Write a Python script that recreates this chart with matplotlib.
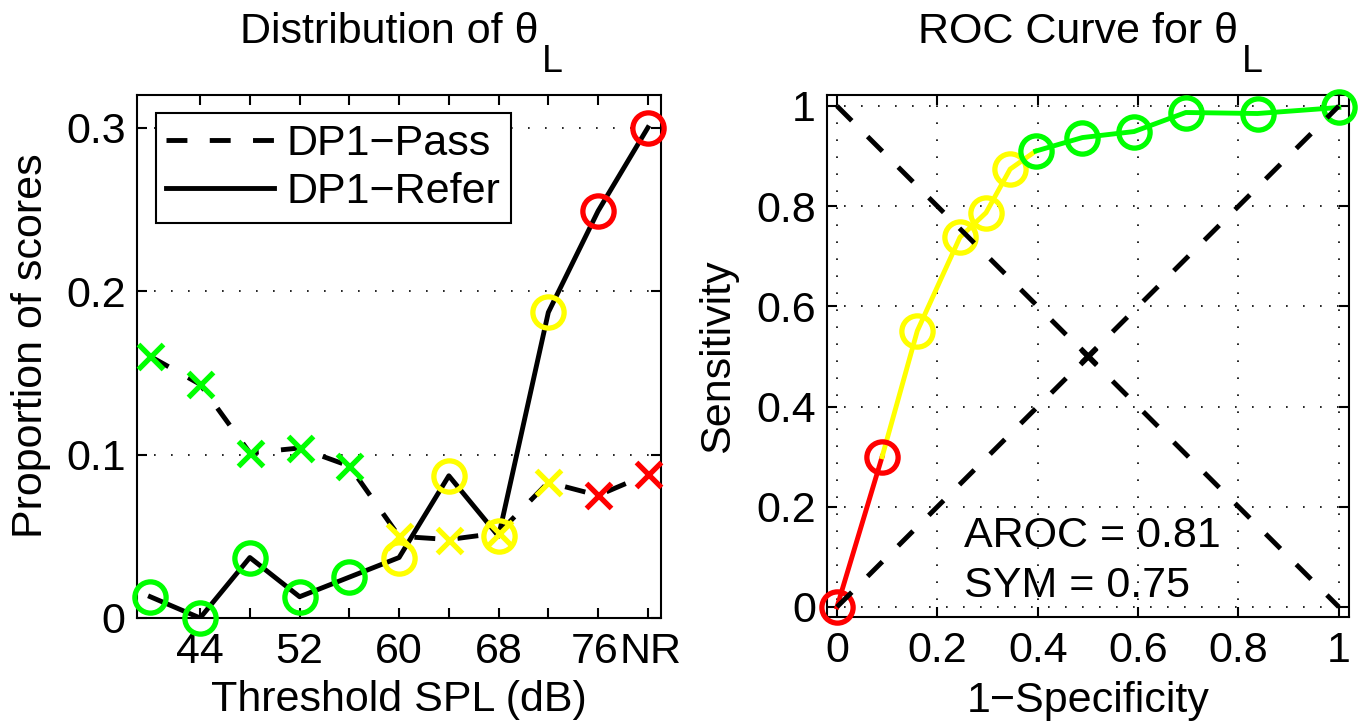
import matplotlib
matplotlib.use("Agg")
import matplotlib.pyplot as plt
from matplotlib.lines import Line2D
import matplotlib.transforms as mtransforms

plt.rcParams['font.family'] = ['Liberation Sans', 'DejaVu Sans']
plt.rcParams['axes.unicode_minus'] = True

# ---------------- data ----------------
thresholds = [40, 44, 48, 52, 56, 60, 64, 68, 72, 76, 80]
pass_vals = [0.160, 0.143, 0.101, 0.104, 0.093, 0.050, 0.048, 0.052, 0.083, 0.075, 0.088]
refer_vals = [0.013, 0.000, 0.037, 0.013, 0.025, 0.037, 0.087, 0.050, 0.187, 0.249, 0.300]
point_colors = ['g', 'g', 'g', 'g', 'g', 'y', 'y', 'y', 'y', 'r', 'r']
xtick_pos = [44, 48, 52, 56, 60, 64, 68, 72, 76, 80]
xtick_labels = ['44', '', '52', '', '60', '', '68', '', '76', 'NR']
ytick_pos_left = [0, 0.1, 0.2, 0.3]
ytick_labels_left = ['0', '0.1', '0.2', '0.3']

roc_fpr = [0.0, 0.09, 0.16, 0.245, 0.297, 0.345, 0.396, 0.489, 0.592, 0.695, 0.838, 1.0]
roc_tpr = [0.0, 0.30, 0.551, 0.738, 0.787, 0.874, 0.910, 0.937, 0.949, 0.987, 0.985, 0.997]
roc_colors = ['r', 'r', 'y', 'y', 'y', 'y', 'g', 'g', 'g', 'g', 'g', 'g']
roc_groups = [('r', 0, 1), ('y', 1, 6), ('g', 6, 11)]  # (colour, first, last point index)
roc_ticks = [0, 0.2, 0.4, 0.6, 0.8, 1]
roc_tick_labels = ['0', '0.2', '0.4', '0.6', '0.8', '1']
aroc_text = 'AROC = 0.81'
sym_text = 'SYM = 0.75'

COL = {'g': '#00FF00', 'y': '#FFFF00', 'r': '#FF0000'}

FS = 31
LW = 3.5
DASH = (0, (4.3, 4.6))
GRID_STYLE = dict(linestyle=(0, (1, 9.2)), color='k', linewidth=1.2)
CIRCLE = dict(linestyle='none', marker='o', ms=22.5, mew=3.8, mfc='none',
              clip_on=False)

fig = plt.figure(figsize=(13.61, 7.25), dpi=100)
axL = fig.add_axes([0.1004, 0.1476, 0.3852, 0.7214])
axR = fig.add_axes([0.6076, 0.1490, 0.3835, 0.7200])


def style_axes(ax):
    for s in ax.spines.values():
        s.set_linewidth(1.5)
        s.set_zorder(1)
    ax.tick_params(direction='in', length=7, width=1.5, top=True, right=True,
                   labelsize=FS)
    ax.tick_params(axis='x', pad=10)
    ax.tick_params(axis='y', pad=8)


def theta_title(ax, prefix):
    off = mtransforms.offset_copy(ax.transAxes, fig=fig, x=-10, y=0, units='dots')
    t = ax.text(0.5, 1.0994, prefix + '\u03b8', transform=off, ha='center',
                va='baseline', fontsize=FS)
    ax.annotate('L', xy=(1.0, 1.044), xycoords=(t, ax.transAxes),
                xytext=(4, 0), textcoords='offset pixels', ha='left',
                va='baseline', fontsize=27, annotation_clip=False)


# ---------------- left panel ----------------
ax = axL
ax.plot(thresholds, pass_vals, color='k', lw=LW, linestyle=DASH, zorder=2)
ax.plot(thresholds, refer_vals, color='k', lw=LW, linestyle='-', zorder=2)
for x, p, r, c in zip(thresholds, pass_vals, refer_vals, point_colors):
    ax.plot([x], [p], linestyle='none', marker='x', ms=18, mew=3.8,
            color=COL[c], zorder=3, clip_on=False)
    ax.plot([x], [r], mec=COL[c], zorder=3, **CIRCLE)
ax.set_xlim(38.9, 81.05)
ax.set_ylim(0, 0.32)
ax.set_xticks(xtick_pos)
ax.set_xticklabels(xtick_labels)
ax.set_yticks(ytick_pos_left)
ax.set_yticklabels(ytick_labels_left)
ax.yaxis.grid(True, **GRID_STYLE)
ax.set_axisbelow(True)
style_axes(ax)
# nudge the crowded "76" / "NR" labels apart a little
lbls = ax.get_xticklabels()
lbls[-2].set_transform(lbls[-2].get_transform() +
                       mtransforms.ScaledTranslation(-3 / 100, 0, fig.dpi_scale_trans))
lbls[-1].set_transform(lbls[-1].get_transform() +
                       mtransforms.ScaledTranslation(3 / 100, 0, fig.dpi_scale_trans))
ax.set_xlabel('Threshold SPL (dB)', fontsize=FS)
ax.xaxis.set_label_coords(0.5, -0.119)
ax.xaxis.label.set_va('top')
ax.set_ylabel('Proportion of scores', fontsize=FS)
ax.yaxis.set_label_coords(-0.163, 0.52)
theta_title(ax, 'Distribution of ')
handles = [Line2D([], [], color='k', lw=LW, linestyle=DASH),
           Line2D([], [], color='k', lw=LW, linestyle='-')]
leg = ax.legend(handles, ['DP1\u2212Pass', 'DP1\u2212Refer'], loc='upper left',
                bbox_to_anchor=(0.036, 0.9656), borderaxespad=0, fontsize=FS,
                handlelength=2.5, handletextpad=0.3, borderpad=0.25,
                labelspacing=0.2, fancybox=False, framealpha=1,
                edgecolor='k')
leg.get_frame().set_linewidth(1.5)
leg.set_zorder(5)

# ---------------- right panel ----------------
ax = axR
for c, i0, i1 in roc_groups:
    ax.plot(roc_fpr[i0:i1 + 1], roc_tpr[i0:i1 + 1], color=COL[c], lw=LW,
            zorder=2)
for x, y, c in zip(roc_fpr, roc_tpr, roc_colors):
    ax.plot([x], [y], mec=COL[c], zorder=3, **CIRCLE)
ax.plot([0, 1], [1, 0], color='k', lw=LW, linestyle=DASH, zorder=4)
ax.plot([0, 1], [0, 1], color='k', lw=LW, linestyle=DASH, zorder=4)
ax.plot([0.5], [0.5], linestyle='none', marker='x', ms=12, mew=3.8, color='k',
        zorder=4)
ax.set_xlim(-0.02, 1.02)
ax.set_ylim(-0.02, 1.022)
ax.set_xticks(roc_ticks)
ax.set_xticklabels(roc_tick_labels)
ax.set_yticks(roc_ticks)
ax.set_yticklabels(roc_tick_labels)
ax.grid(True, **GRID_STYLE)
ax.set_axisbelow(True)
style_axes(ax)
ax.set_xlabel('1\u2212Specificity', fontsize=FS)
ax.xaxis.set_label_coords(0.5, -0.122)
ax.xaxis.label.set_va('top')
ax.set_ylabel('Sensitivity', fontsize=FS)
ax.yaxis.set_label_coords(-0.170, 0.5)
ax.text(0.253, 0.119, aroc_text, fontsize=FS, ha='left', va='baseline')
ax.text(0.253, 0.019, sym_text, fontsize=FS, ha='left', va='baseline')
theta_title(ax, 'ROC Curve for ')

fig.savefig('out.png', dpi=100)
